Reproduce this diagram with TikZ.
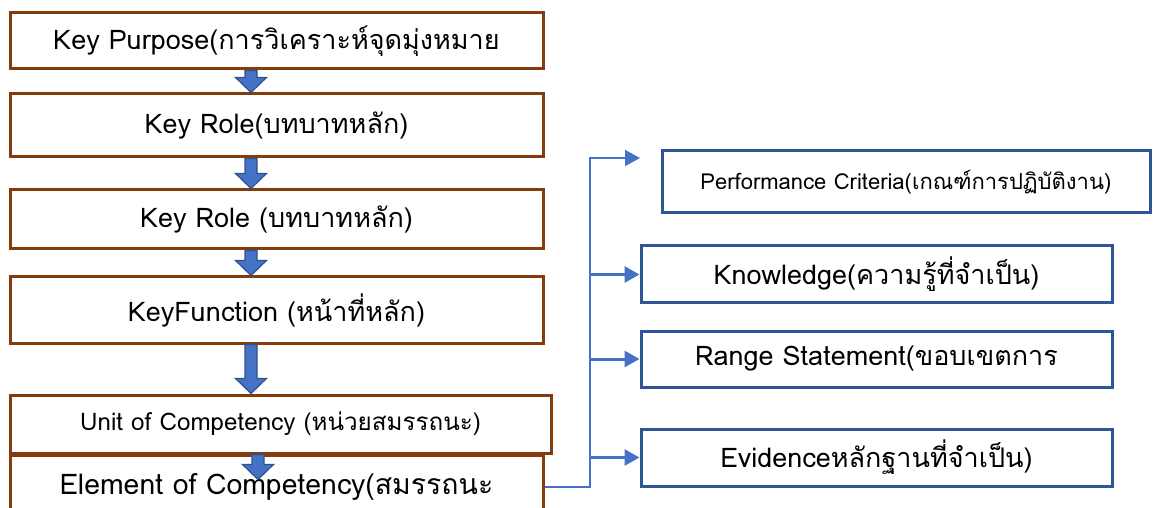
\documentclass[tikz,border=0pt]{standalone}
\usepackage{fontspec}
\newfontfamily\thaifont[Script=Thai]{Loma}
\usetikzlibrary{arrows.meta,calc}

\definecolor{boxbrown}{HTML}{843C0C}
\definecolor{boxblue}{HTML}{2F5597}
\definecolor{arrowblue}{HTML}{4472C4}
\definecolor{arrowedge}{HTML}{2F528F}

\tikzset{
  blockarrow/.style={fill=arrowblue, draw=arrowedge, line width=0.6pt, line join=miter},
}

% block arrow pointing down from box #2 to box #3 at x=#1, tip pushed #4 below #3
\newcommand{\blockdown}[4]{%
  \filldraw[blockarrow]
    ($(#2.south -| #1,0)+(-6,0)$) -- ($(#2.south -| #1,0)+(6,0)$)
    -- ($(#3.north -| #1,0)+(6,#4-15)$) -- ($(#3.north -| #1,0)+(15.5,#4-15)$)
    -- ($(#3.north -| #1,0)+(0,#4)$)
    -- ($(#3.north -| #1,0)+(-15.5,#4-15)$) -- ($(#3.north -| #1,0)+(-6,#4-15)$)
    -- cycle;}

\begin{document}
\begin{tikzpicture}[x=0.5pt, y=-0.5pt,
  bigtext/.style={font=\thaifont\fontsize{13.5}{16}\selectfont},
  smalltext/.style={font=\thaifont\fontsize{11}{13}\selectfont},
  leftbox/.style={draw=boxbrown, line width=1.5pt, fill=white, minimum width=266.5pt, inner sep=0pt, bigtext},
  rightbox/.style={draw=boxblue, line width=1.5pt, fill=white, minimum width=235.5pt, inner sep=0pt, bigtext},
  link/.style={draw=arrowblue, line width=1.5pt, -{Triangle[length=7.5pt,width=8pt]}},
  thinlink/.style={draw=arrowblue, line width=0.75pt, -{Triangle[length=7.5pt,width=8pt]}},
]
\clip (0,0) rectangle (1153,508);

% left column
\node[leftbox, minimum height=28pt] (kp) at (276.5,41) {Key Purpose(การวิเคราะห์จุดมุ่งหมาย};
\node[leftbox, minimum height=31.5pt] (kr1) at (276.5,125.5) {Key Role(บทบาทหลัก)};
\node[leftbox, minimum height=29.5pt] (kr2) at (276.5,219.5) {Key Role (บทบาทหลัก)};
\node[leftbox, minimum height=33pt] (kf) at (276.5,310) {KeyFunction (หน้าที่หลัก)};
\node[leftbox, minimum height=32pt, font=\thaifont\fontsize{14.2}{17}\selectfont] (ec) at (276.5,487) {Element of Competency(สมรรถนะ};
\node[leftbox, minimum width=270.5pt, minimum height=29pt, font=\thaifont\fontsize{12.1}{14}\selectfont] (uc) at (280.5,424) {Unit of Competency (หน่วยสมรรถนะ)};

\blockdown{251}{kp}{kr1}{0}
\blockdown{251}{kr1}{kr2}{0}
\blockdown{251}{kr2}{kf}{0}
\blockdown{251}{kf}{uc}{0}
\blockdown{258}{uc}{ec}{26}

% right column
\node[rightbox, smalltext, minimum width=244pt, minimum height=31pt] (pc) at (906,182) {Performance Criteria(เกณฑ์การปฏิบัติงาน)};
\node[rightbox, minimum height=28.5pt] (kn) at (876.5,274.5) {Knowledge(ความรู้ที่จำเป็น)};
\node[rightbox, minimum height=28pt] (rs) at (876.5,359) {Range Statement(ขอบเขตการ};
\node[rightbox, minimum height=28.5pt] (ev) at (876.5,457.5) {Evidenceหลักฐานที่จำเป็น)};

\coordinate (trunk) at (590,0);
\coordinate (pctip) at (640,158);

\draw[thinlink] (ec.east) -- (ec.east -| trunk) -- (pctip -| trunk) -- (pctip);
\draw[link] (kn.west -| trunk) -- (kn.west);
\draw[link] (rs.west -| trunk) -- (rs.west);
\draw[link] (ev.west -| trunk) -- (ev.west);
\end{tikzpicture}
\end{document}
